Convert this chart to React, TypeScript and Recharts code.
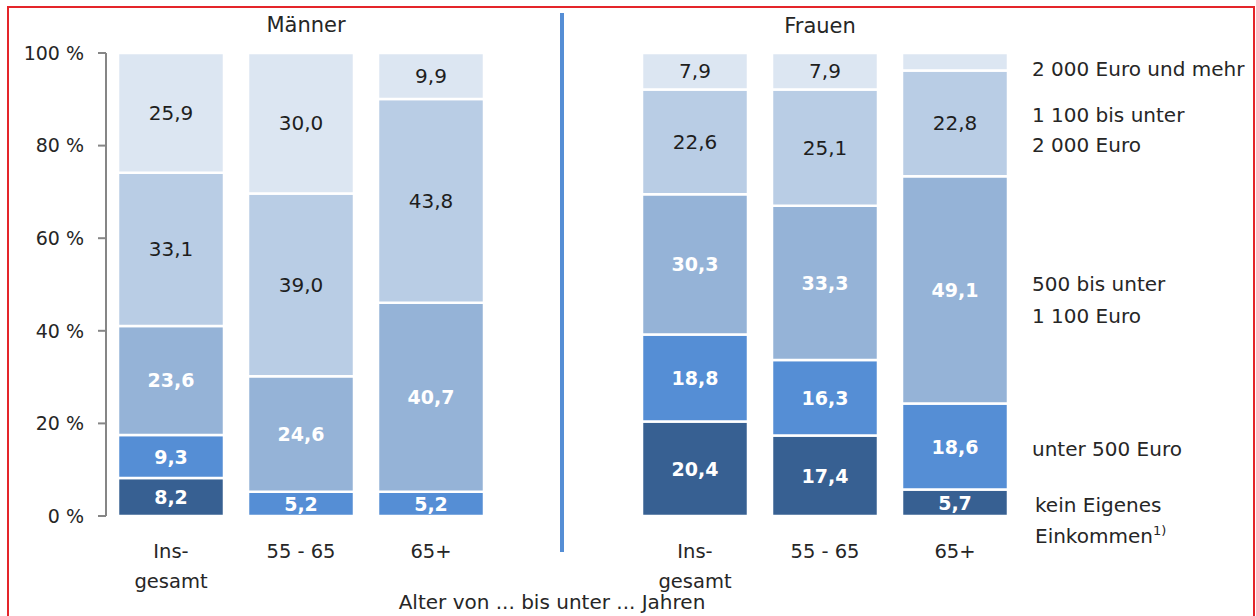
import { BarChart, Bar, XAxis, YAxis, LabelList } from 'recharts';

const ageGroups = ['Ins-\ngesamt', '55 - 65', '65+'];
const seriesKeys = ['kein', 'u500', 'b1100', 'b2000', 'mehr'];
const seriesColors = ['#376092', '#558ED5', '#95B3D7', '#B9CDE5', '#DCE6F2'];
// Legendentext rechts, eine Zeile pro Eintrag
const seriesNames = [
    ['kein Eigenes', 'Einkommen'],
    ['unter 500 Euro'],
    ['500 bis unter', '1 100 Euro'],
    ['1 100 bis unter', '2 000 Euro'],
    ['2 000 Euro und mehr'],
];
const yTicks = [0, 0.2, 0.4, 0.6, 0.8, 1];

// Männer
const maennerKein = [8.2, 0, 0];
const maennerU500 = [9.3, 5.2, 5.2];
const maennerB1100 = [23.6, 24.6, 40.7];
const maennerB2000 = [33.1, 39.0, 43.8];
const maennerMehr = [25.9, 30.0, 9.9];

// Frauen
const frauenKein = [20.4, 17.4, 5.7];
const frauenU500 = [18.8, 16.3, 18.6];
const frauenB1100 = [30.3, 33.3, 49.1];
const frauenB2000 = [22.6, 25.1, 22.8];
const frauenMehr = [7.9, 7.9, 3.8];
// im Original ohne Beschriftung: [Reihe, Altersgruppe]
const frauenOhneLabel = [[4, 2]];

const FONT = '"DejaVu Sans", sans-serif';
const TEXT = '#262626';

const fmt = (v: number) => v.toFixed(1).replace('.', ',');

const buildRows = (cols: number[][], hidden: number[][] = []) =>
    ageGroups.map((age, i) => {
        const row: any = { age };
        seriesKeys.forEach((k, s) => {
            const v = cols[s][i];
            row[k] = v;
            const hide = v <= 0 || hidden.some(([hs, hi]) => hs === s && hi === i);
            row[k + 'Label'] = hide ? '' : fmt(v);
        });
        return row;
    });

const maennerRows = buildRows([maennerKein, maennerU500, maennerB1100, maennerB2000, maennerMehr]);
const frauenRows = buildRows([frauenKein, frauenU500, frauenB1100, frauenB2000, frauenMehr], frauenOhneLabel);

const AgeTick = ({ x, y, payload }: any) => {
    const lines = String(payload.value).split('\n');
    return (
        <text x={x} y={y} textAnchor="middle" fill={TEXT} fontSize={19.5} fontFamily={FONT}>
            {lines.map((l, i) => (
                <tspan key={i} x={x} dy={i === 0 ? 42 : 30}>{l}</tspan>
            ))}
        </text>
    );
};

const makeLabel = (s: number) => (p: any) => {
    if (!p.value) return null;
    const light = s >= 3;
    const h = Math.abs(p.height);
    const top = p.height < 0 ? p.y + p.height : p.y;
    return (
        <text
            x={p.x + p.width / 2}
            y={top + h / 2}
            dy={7}
            textAnchor="middle"
            fill={light ? '#1e1e1e' : '#ffffff'}
            fontWeight={light ? 400 : 700}
            fontSize={light ? 20 : 19}
            fontFamily={FONT}
        >
            {p.value}
        </text>
    );
};

const renderBars = () =>
    seriesKeys.map((k, s) => (
        <Bar
            key={k}
            dataKey={k}
            stackId="a"
            fill={seriesColors[s]}
            stroke="#ffffff"
            strokeWidth={2.5}
            isAnimationActive={false}
        >
            <LabelList dataKey={k + 'Label'} content={makeLabel(s)} />
        </Bar>
    ));

export default function App() {
    return (
        <div style={{ position: 'absolute', left: 0, top: 0, width: 1256, height: 616, overflow: 'hidden', background: '#fff' }}>
            <div style={{ position: 'absolute', left: 7, top: 6, width: 1248, height: 700, border: '2px solid #e4252a', boxSizing: 'border-box' }} />

            <div style={{ position: 'absolute', left: 0, top: 0 }}>
                <BarChart
                    width={500}
                    height={616}
                    data={maennerRows}
                    stackOffset="expand"
                    barSize={106}
                    margin={{ top: 53, right: 4, bottom: 30, left: 46 }}
                >
                    <XAxis dataKey="age" axisLine={false} tickLine={false} tickSize={0} tickMargin={0} height={70} interval={0} tick={<AgeTick />} />
                    <YAxis
                        width={60}
                        domain={[0, 1]}
                        ticks={yTicks}
                        tickFormatter={(v: number) => `${Math.round(v * 100)} %`}
                        tickSize={8}
                        tickMargin={14}
                        axisLine={{ stroke: '#868686', strokeWidth: 2 }}
                        tickLine={{ stroke: '#868686', strokeWidth: 2 }}
                        tick={{ fill: TEXT, fontSize: 19, fontFamily: FONT }}
                    />
                    {renderBars()}
                </BarChart>
            </div>

            <div style={{ position: 'absolute', left: 600, top: 0 }}>
                <BarChart
                    width={430}
                    height={616}
                    data={frauenRows}
                    stackOffset="expand"
                    barSize={106}
                    margin={{ top: 53, right: 10, bottom: 30, left: 30 }}
                >
                    <XAxis dataKey="age" axisLine={false} tickLine={false} tickSize={0} tickMargin={0} height={70} interval={0} tick={<AgeTick />} />
                    <YAxis hide domain={[0, 1]} />
                    {renderBars()}
                </BarChart>
            </div>

            <svg width={1256} height={616} style={{ position: 'absolute', left: 0, top: 0, pointerEvents: 'none' }}>
                <line x1={562} y1={13} x2={562} y2={552} stroke="#558ED5" strokeWidth={4} />
                <g fill={TEXT} fontFamily={FONT}>
                    <text x={306} y={32} textAnchor="middle" fontSize={21}>Männer</text>
                    <text x={820} y={33} textAnchor="middle" fontSize={21}>Frauen</text>

                    <text x={1032} y={76} fontSize={20}>{seriesNames[4][0]}</text>
                    <text x={1032} y={122} fontSize={20}>{seriesNames[3][0]}</text>
                    <text x={1032} y={152} fontSize={20}>{seriesNames[3][1]}</text>
                    <text x={1032} y={291} fontSize={20}>{seriesNames[2][0]}</text>
                    <text x={1032} y={323} fontSize={20}>{seriesNames[2][1]}</text>
                    <text x={1032} y={456} fontSize={20}>{seriesNames[1][0]}</text>
                    <text x={1035} y={512} fontSize={20}>{seriesNames[0][0]}</text>
                    <text x={1035} y={543} fontSize={20}>
                        {seriesNames[0][1]}
                        <tspan dy={-8} fontSize={13}>1)</tspan>
                    </text>

                    <text x={552} y={609} textAnchor="middle" fontSize={20}>Alter von ... bis unter ... Jahren</text>
                </g>
            </svg>
        </div>
    );
}
